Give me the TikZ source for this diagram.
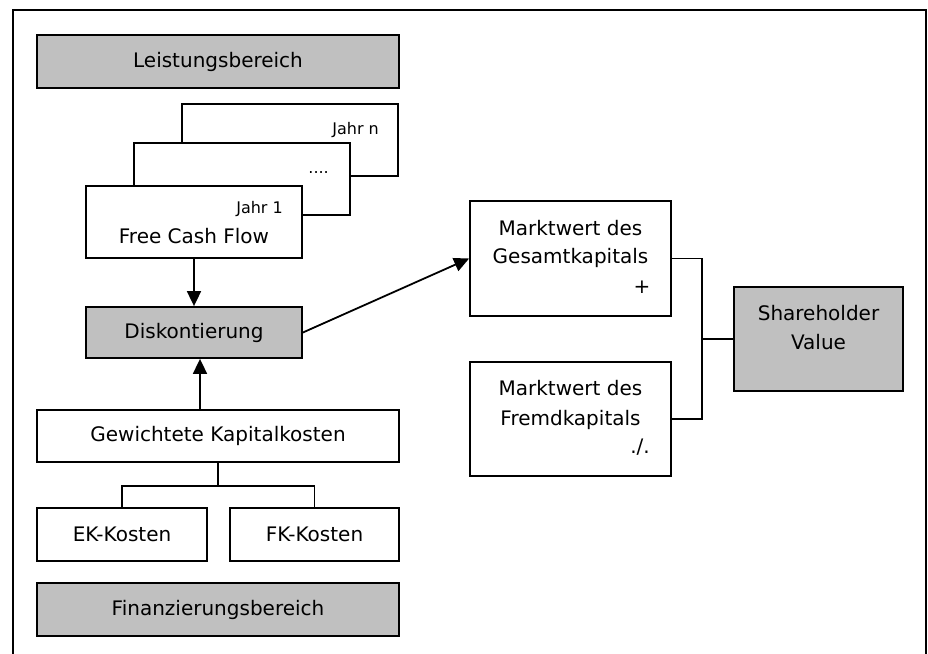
\documentclass[tikz,border=0pt]{standalone}
\usepackage{fontspec}
\setmainfont{DejaVu Sans}
\usetikzlibrary{arrows.meta}

\definecolor{panelgray}{HTML}{C0C0C0}

\tikzset{
  box/.style={draw=black, line width=1.8pt, fill=white, inner sep=0pt,
              font=\fontsize{20}{24}\selectfont},
  greybox/.style={box, fill=panelgray},
  note/.style={inner sep=0pt, font=\fontsize{16}{19}\selectfont},
  label/.style={inner sep=0pt, font=\fontsize{20}{24}\selectfont},
  arr/.style={line width=1.8pt, -{Triangle[length=15pt,width=14pt]}},
  link/.style={line width=1.6pt},
}

\begin{document}
\begin{tikzpicture}[x=1pt, y=-1pt]
  \clip (0,0) rectangle (928,653);

  % outer frame (open at the bottom edge)
  \draw[line width=2pt] (13,660) -- (13,10) -- (926,10) -- (926,660);

  % left column: performance area
  \node[greybox, minimum width=362pt, minimum height=53pt] (lb) at (218,61.5) {Leistungsbereich};

  % stacked yearly cash flow sheets
  \node[box, minimum width=216pt, minimum height=72pt] (jn) at (290,140) {};
  \node[note, anchor=base east] (jntext) at (379,134) {Jahr n};
  \node[box, minimum width=216pt, minimum height=72pt] (jm) at (242,179) {};
  \node[note, anchor=base east] (jmtext) at (329,173) {....};
  \node[box, minimum width=216pt, minimum height=72pt] (fcf) at (194,222) {};
  \node[note, anchor=base east] (j1text) at (283,213) {Jahr 1};
  \node[label, anchor=base] (fcftext) at (194,243) {Free Cash Flow};

  \node[greybox, minimum width=216pt, minimum height=51pt] (disk) at (194,332.5) {Diskontierung};

  \node[box, minimum width=362pt, minimum height=52pt] (gk) at (218,436) {Gewichtete Kapitalkosten};
  \node[box, minimum width=170pt, minimum height=53pt] (ek) at (122,534.5) {EK-Kosten};
  \node[box, minimum width=169pt, minimum height=53pt] (fk) at (314.5,534.5) {FK-Kosten};

  \node[greybox, minimum width=362pt, minimum height=53pt] (fb) at (218,609.5) {Finanzierungsbereich};

  % right column: market values
  \node[box, minimum width=201pt, minimum height=115pt] (gesamt) at (570.5,258.5) {};
  \node[label, anchor=base] (g1) at (570.5,235) {Marktwert des};
  \node[label, anchor=base] (g2) at (570.5,263) {Gesamtkapitals};
  \node[label, anchor=base] (gplus) at (642,293) {+};

  \node[box, minimum width=201pt, minimum height=114pt] (fremd) at (570.5,419) {};
  \node[label, anchor=base] (f1) at (570.5,395) {Marktwert des};
  \node[label, anchor=base] (f2) at (570.5,425) {Fremdkapitals};
  \node[label, anchor=base east] (fminus) at (650,453) {./.};

  \node[greybox, minimum width=169pt, minimum height=104pt] (sv) at (818.5,339) {};
  \node[label, anchor=base] (s1) at (818.5,320) {Shareholder};
  \node[label, anchor=base] (s2) at (818.5,349) {Value};

  % flows
  \draw[arr] (fcf.south) -- (disk.north);
  \draw[arr] ([xshift=-18pt]gk.north) -- ([xshift=6pt]disk.south);
  \draw[arr] (disk.east) -- (gesamt.west);

  % cost-of-capital tree
  \draw[line width=2.4pt] (gk.south) -- ++(0,23) coordinate (tj);
  \draw[link] (ek.north) |- (tj) -| (fk.north);

  % market values combine into shareholder value
  \coordinate (sj) at ([xshift=-31pt]sv.west);
  \draw[link] (gesamt.east) -| (sj) |- (fremd.east);
  \draw[link] (sj) -- (sv.west);
\end{tikzpicture}
\end{document}
